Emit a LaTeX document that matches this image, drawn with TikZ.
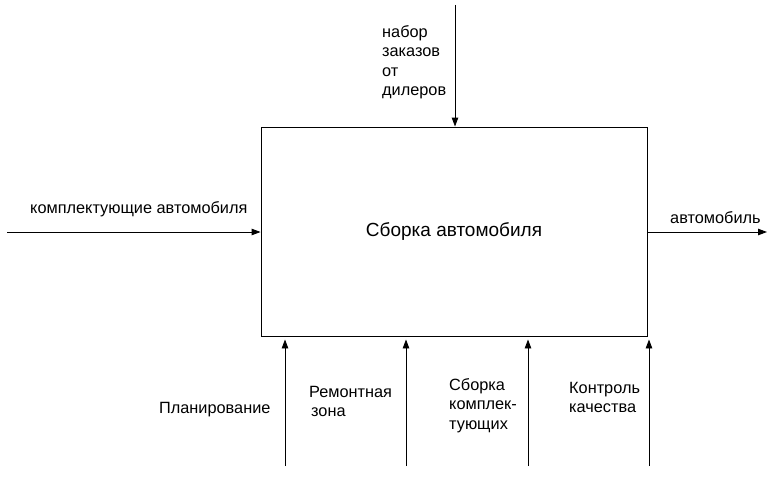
\documentclass[tikz,border=0pt]{standalone}
\usepackage{fontspec}
\setmainfont{Liberation Sans}
\usetikzlibrary{arrows.meta}
\begin{document}
\begin{tikzpicture}[x=1pt,y=-1pt,
  lbl/.style={inner sep=0pt,font=\fontsize{16.3}{19.5}\selectfont,align=left},
  arr/.style={-{Triangle[length=9pt,width=6.5pt]},line width=0.9pt}]
\useasboundingbox (0,0) rectangle (778,476);
\node[draw,line width=0.9pt,minimum width=386pt,minimum height=209pt,inner sep=0pt,font=\fontsize{19}{22}\selectfont] (box) at (454,231.5) {Сборка автомобиля};
\coordinate (tin) at (455,5);
\coordinate (lin) at (7,232);
\coordinate (rout) at (767,232);
\coordinate (b1) at (285,466);
\coordinate (b2) at (406,466);
\coordinate (b3) at (528,466);
\coordinate (b4) at (649,466);
\draw[arr] (tin) -- (tin |- box.north);
\draw[arr] (lin) -- (lin -| box.west);
\draw[arr] (rout -| box.east) -- (rout);
\draw[arr] (b1) -- ([yshift=-3pt]b1 |- box.south);
\draw[arr] (b2) -- ([yshift=-3pt]b2 |- box.south);
\draw[arr] (b3) -- ([yshift=-3pt]b3 |- box.south);
\draw[arr] (b4) -- ([yshift=-3pt]b4 |- box.south);
\node[lbl,anchor=north west] (t1) at (382,25) {набор\\заказов\\от\\дилеров};
\node[lbl,anchor=west] (t2) at (30,209) {комплектующие автомобиля};
\node[lbl,anchor=west] (t3) at (670,218) {автомобиль};
\node[lbl,anchor=west] (t4) at (159,410) {Планирование};
\node[lbl,anchor=north west] (t5) at (309,386) {Ремонтная\\\hspace*{2pt}зона};
\node[lbl,anchor=north west] (t6) at (449,378) {Сборка\\комплек-\\тующих};
\node[lbl,anchor=north west] (t7) at (569,382) {Контроль\\качества};
\end{tikzpicture}
\end{document}
